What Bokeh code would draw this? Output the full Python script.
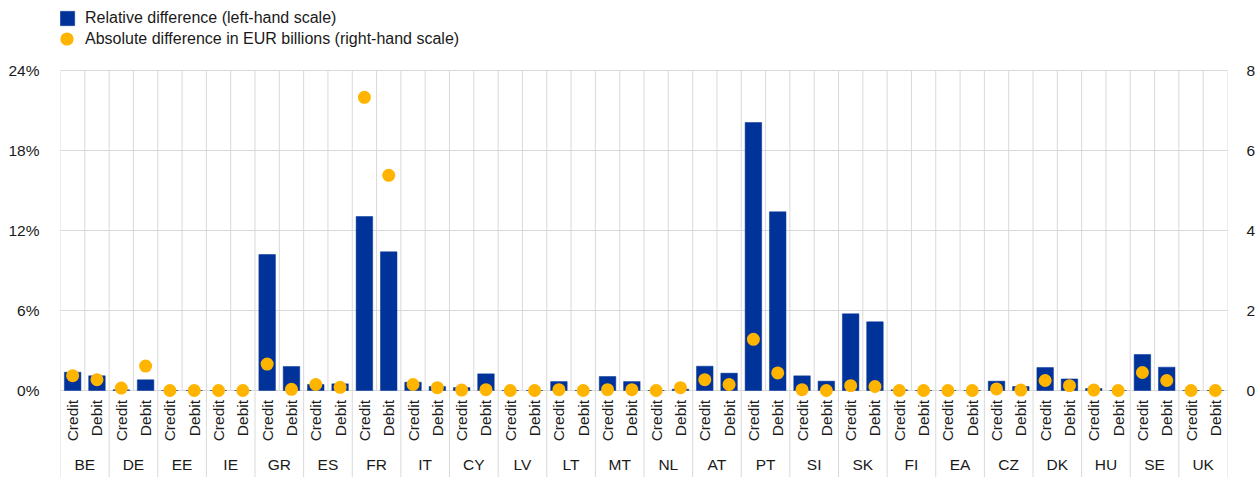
import math
from bokeh.plotting import figure
from bokeh.models import (FactorRange, Range1d, LinearAxis, FixedTicker, PrintfTickFormatter,
                          ColumnDataSource, Legend, LegendItem)
from bokeh.core.properties import value
from bokeh.embed import file_html
from bokeh.resources import INLINE

# ---------------- data ----------------
countries = ["BE", "DE", "EE", "IE", "GR", "ES", "FR", "IT", "CY", "LV", "LT", "MT",
             "NL", "AT", "PT", "SI", "SK", "FI", "EA", "CZ", "DK", "HU", "SE", "UK"]
flow_types = ["Credit", "Debit"]

# relative difference, % (left-hand scale)
rel_credit = [1.37, 0.05, 0.0, 0.0, 10.2, 0.45, 13.05, 0.62, 0.22, 0.0, 0.67, 1.05,
              0.0, 1.82, 20.1, 1.1, 5.75, 0.05, 0.0, 0.7, 1.72, 0.15, 2.7, 0.0]
rel_debit = [1.1, 0.8, 0.0, 0.0, 1.8, 0.5, 10.4, 0.3, 1.25, 0.0, 0.0, 0.67,
             0.1, 1.3, 13.4, 0.7, 5.15, 0.0, 0.0, 0.3, 0.87, 0.0, 1.75, 0.0]
# absolute difference, EUR billions (right-hand scale)
abs_credit = [0.37, 0.06, 0.0, 0.0, 0.66, 0.15, 7.33, 0.15, 0.01, 0.0, 0.02, 0.02,
              0.0, 0.27, 1.28, 0.02, 0.12, 0.0, 0.0, 0.04, 0.25, 0.01, 0.45, 0.0]
abs_debit = [0.27, 0.61, 0.0, 0.0, 0.03, 0.08, 5.38, 0.07, 0.02, 0.0, 0.0, 0.02,
             0.07, 0.15, 0.44, 0.0, 0.1, 0.0, 0.0, 0.01, 0.12, 0.0, 0.25, 0.0]

left_ticks = [0, 6, 12, 18, 24]
right_ticks = [0, 2, 4, 6, 8]
legend_labels = ["Relative difference (left-hand scale)",
                 "Absolute difference in EUR billions (right-hand scale)"]

# ---------------- style / layout ----------------
W, H = 1258, 477
FONT = "Liberation Sans"
FS = "15.5px"
BLUE = "#003399"
GOLD = "#FFB400"
GRID = "#d9d9d9"
TXT = "#1a1a1a"

px_per_unit = 320 / 24.0
top_px = 70      # pixel row of the 24% line
zero_px = 390    # pixel row of the 0% line
y_end = 24 + top_px / px_per_unit
y_start = -(H - zero_px) / px_per_unit
ratio = 24 / 8.0

factors = [(c, t) for c in countries for t in flow_types]
rel = [v for pair in zip(rel_credit, rel_debit) for v in pair]
absd = [v for pair in zip(abs_credit, abs_debit) for v in pair]

src = ColumnDataSource(dict(x=factors, rel=rel, absd=absd,
                            kind=[t for c in countries for t in flow_types]))

p = figure(width=W, height=H, output_backend="svg", toolbar_location=None,
           x_range=FactorRange(factors=factors, factor_padding=0, group_padding=0,
                               subgroup_padding=0, range_padding=0),
           y_range=Range1d(y_start, y_end),
           min_border_left=60, min_border_right=26, min_border_top=0, min_border_bottom=0,
           x_axis_location=None)
p.extra_y_ranges = {"abs": Range1d(y_start / ratio, y_end / ratio)}
p.outline_line_color = None
p.xgrid.visible = False
p.ygrid.ticker = FixedTicker(ticks=left_ticks)
p.ygrid.grid_line_color = GRID
p.ygrid.grid_line_width = 1

# left axis
ya = p.yaxis[0]
ya.ticker = FixedTicker(ticks=left_ticks)
ya.formatter = PrintfTickFormatter(format="%d%%")
ya.axis_line_color = None
ya.major_tick_line_color = None
ya.minor_tick_line_color = None
ya.major_label_standoff = 15
ya.major_label_text_font = FONT
ya.major_label_text_font_size = FS
ya.major_label_text_color = TXT

# right axis
ra = LinearAxis(y_range_name="abs", ticker=FixedTicker(ticks=right_ticks))
ra.axis_line_color = None
ra.major_tick_line_color = None
ra.minor_tick_line_color = None
ra.major_label_standoff = 13
ra.major_label_text_font = FONT
ra.major_label_text_font_size = FS
ra.major_label_text_color = TXT
p.add_layout(ra, "right")

# vertical grid lines between every category (plot area) and country separators (label area)
all_bounds = [(c, t, -0.5) for c, t in factors] + [(countries[-1], flow_types[-1], 0.5)]
p.segment(x0=all_bounds, x1=all_bounds, y0=[0] * len(all_bounds), y1=[24] * len(all_bounds),
          line_color=GRID, line_width=1)
country_bounds = [(c, flow_types[0], -0.5) for c in countries] + [(countries[-1], flow_types[-1], 0.5)]
p.segment(x0=country_bounds, x1=country_bounds, y0=[y_start] * len(country_bounds),
          y1=[0] * len(country_bounds), line_color=GRID, line_width=1)

bars = p.vbar(x="x", top="rel", bottom=0, width=0.68, source=src,
              fill_color=BLUE, line_color=BLUE, line_width=0.5)
dots = p.scatter(x="x", y="absd", size=13, source=src, y_range_name="abs",
                 fill_color=GOLD, line_color=None)

# category labels
sub_y = -9.5 / px_per_unit
p.text(x="x", y=sub_y, text="kind", source=src, angle=math.pi / 2,
       text_align="right", text_baseline="middle",
       text_font=value(FONT), text_font_size=FS, text_color=TXT)
country_x = [(c, flow_types[0], 0.5) for c in countries]
p.text(x=country_x, y=[-(463.5 - zero_px) / px_per_unit] * len(countries), text=countries,
       text_align="center", text_baseline="middle",
       text_font=value(FONT), text_font_size=FS, text_color=TXT)

# legends (kept just inside the plot frame so the glyphs are not clipped)
leg1 = Legend(items=[LegendItem(label=legend_labels[0], renderers=[bars])],
              location=(-2, H - 9 - 18), glyph_width=18, glyph_height=18,
              label_standoff=9, label_height=18, padding=0, margin=0, spacing=0,
              border_line_color=None, background_fill_alpha=0,
              label_text_font=FONT, label_text_font_size="16px", label_text_color=TXT)
leg2 = Legend(items=[LegendItem(label=legend_labels[1], renderers=[dots])],
              location=(-10, H - 22 - 33), glyph_width=33, glyph_height=33,
              label_standoff=2, label_height=18, padding=0, margin=0, spacing=0,
              border_line_color=None, background_fill_alpha=0,
              label_text_font=FONT, label_text_font_size="16px", label_text_color=TXT)
p.add_layout(leg1, "center")
p.add_layout(leg2, "center")

open("out.html", "w").write(file_html(p, INLINE))
